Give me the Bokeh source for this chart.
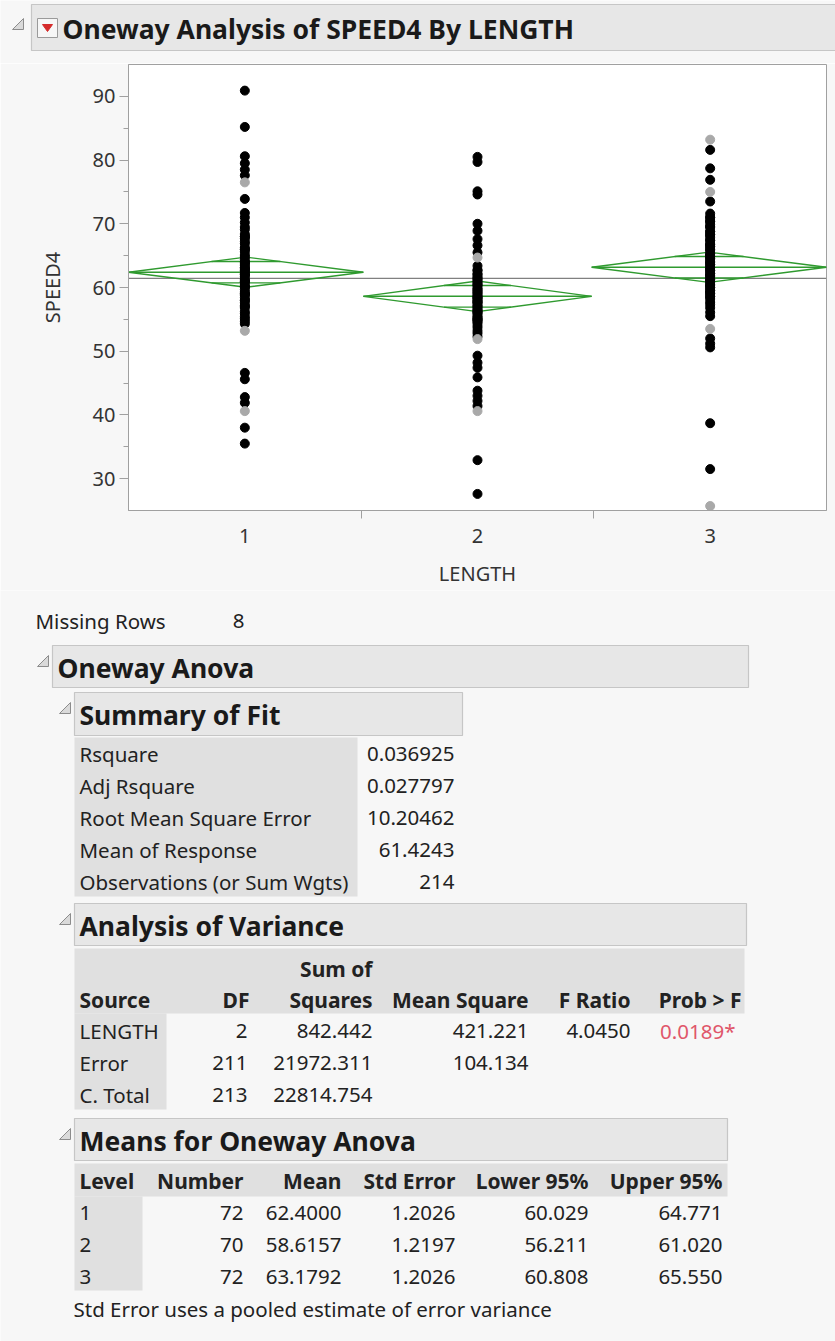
import math
from bokeh.plotting import figure
from bokeh.models import Range1d, FixedTicker, Span
from bokeh.embed import file_html
from bokeh.resources import INLINE
from bokeh.core.properties import value

# ------------------------------------------------------------------ data
levels = ["1", "2", "3"]
level_x = [1, 2, 3]

speed_1 = [90.9, 85.2, 80.6, 79.5, 78.5, 77.6, 73.9, 71.7, 71.0,
           70.2, 69.5, 69.1, 68.4, 68.0, 67.7, 67.2, 66.9, 66.3, 66.0, 65.6,
           65.1, 64.8, 64.4, 64.0, 63.7, 63.5, 63.1, 62.9, 62.6, 62.2, 62.0,
           61.7, 61.3, 61.0, 60.8, 60.4, 60.1, 59.7, 59.3, 59.0, 58.8, 58.4,
           58.0, 57.6, 57.1, 56.8, 56.2, 55.9, 55.4, 55.1, 54.7, 54.3,
           68.0, 66.0, 64.0, 63.1, 62.0, 61.0, 60.1, 59.0, 58.0, 57.1, 62.6,
           46.6, 45.6, 42.8, 41.9, 38.0, 35.5]
speed_1_gray = [76.5, 53.2, 40.6]

speed_2 = [80.5, 79.7, 75.1, 74.6, 70.0, 68.9, 67.6, 66.6, 65.5, 63.4,
           62.7, 62.1, 61.6, 61.2, 60.7, 60.3, 59.8, 59.4, 59.0, 58.5, 58.1,
           57.7, 57.2, 56.8, 56.3, 55.9, 55.4, 55.0, 54.6, 54.1, 53.7, 53.2,
           52.8, 52.3,
           62.1, 61.2, 60.3, 59.4, 59.0, 58.5, 58.1, 57.7, 57.2, 56.8, 56.3,
           55.9, 55.4, 55.0, 54.6, 60.7, 61.6, 62.7, 57.7, 58.5, 59.8, 56.3, 55.0,
           49.3, 48.2, 47.4, 45.9, 43.8, 43.0, 42.2, 41.4, 32.9, 27.6]
speed_2_gray = [64.7, 51.9, 40.6]

speed_3 = [81.6, 78.7, 76.9, 73.5,
           71.6, 71.0, 70.4, 69.9, 69.5, 68.8, 68.3, 67.9, 67.4, 66.8, 66.4,
           65.9, 65.3, 64.9, 64.5, 64.0, 63.6, 63.1, 62.7, 62.2, 61.8, 61.3,
           60.9, 60.4, 60.0, 59.5, 59.1, 58.6, 58.2, 57.7, 57.3, 56.8, 56.1, 55.5,
           71.0, 70.4, 69.5, 68.8, 68.3, 67.4, 66.8, 66.4, 65.9, 65.3, 64.9,
           64.5, 64.0, 63.6, 63.1, 62.7, 62.2, 61.8, 61.3, 60.9, 60.4, 60.0,
           59.5, 59.1, 58.6,
           52.0, 51.2, 50.6, 38.7, 31.5]
speed_3_gray = [83.2, 75.0, 53.5, 25.7]

y_ticks = [30, 40, 50, 60, 70, 80, 90]

missing_rows = "8"

summary_labels = ["Rsquare", "Adj Rsquare", "Root Mean Square Error",
                  "Mean of Response", "Observations (or Sum Wgts)"]
summary_values = ["0.036925", "0.027797", "10.20462", "61.4243", "214"]

anova_source = ["LENGTH", "Error", "C. Total"]
anova_df = [2, 211, 213]
anova_ss = [842.442, 21972.311, 22814.754]
anova_ms = [421.221, 104.134, None]
anova_f = ["4.0450", "", ""]
anova_p = ["0.0189*", "", ""]

means_number = [72, 70, 72]
means_mean = [62.4000, 58.6157, 63.1792]
means_se = [1.2026, 1.2197, 1.2026]
means_lower = [60.029, 56.211, 60.808]
means_upper = [64.771, 61.020, 65.550]

# ------------------------------------------------------------------ style
FONT = "Noto Sans"
BG = "#f7f7f7"
TXT = "#222222"
HDR_FILL = "#e7e7e7"
HDR_LINE = "#c6c6c6"
CELL_BG = "#e0e0e0"
W = 835
BODY = 20.5
HEAD = 26.5
BOLDHDR = 21


def text_fig(y0, y1):
    f = figure(width=W, height=y1 - y0, x_range=Range1d(0, W),
               y_range=Range1d(y1, y0), x_axis_type=None, y_axis_type=None,
               output_backend="svg", toolbar_location=None, min_border=0)
    f.grid.visible = False
    f.outline_line_color = None
    f.background_fill_color = BG
    f.border_fill_color = BG
    return f


def txt(f, x, y, s, size=BODY, bold=False, align="left", color=TXT):
    f.text(x=[x], y=[y], text=[s], text_font=value(FONT),
           text_font_size=value(f"{size}px"),
           text_font_style="bold" if bold else "normal",
           text_align=align, text_baseline="middle", text_color=color)


def box(f, l, r, t, b, fill=HDR_FILL, line=HDR_LINE):
    f.quad(left=[l], right=[r], top=[t], bottom=[b], fill_color=fill,
           line_color=line, line_width=1.2)


def cell(f, l, r, t, b):
    f.quad(left=[l], right=[r], top=[t], bottom=[b], fill_color=CELL_BG,
           line_color=None)


def tri(f, xr, yb, s=11):
    f.patch(x=[xr - s, xr, xr], y=[yb, yb, yb - s], fill_color="#dadada",
            line_color="#8c8c8c", line_width=1)


def section(f, l, r, t, b, title, size=HEAD):
    box(f, l, r, t, b)
    tri(f, l - 4, t + 21)
    txt(f, l + 5, (t + b) / 2 + 1, title, size=size, bold=True, color="#1a1a1a")


# ------------------------------------------------------------------ header
hdr = text_fig(0, 63)
box(hdr, 31, 840, 4, 50)
tri(hdr, 23, 29)
hdr.quad(left=[37], right=[57], top=[18], bottom=[37], fill_color="#f6f6f6",
         line_color="#9a9a9a")
hdr.patch(x=[42, 52, 47], y=[24, 24, 31], fill_color="#d42a2a", line_color="#d42a2a")
txt(hdr, 62, 28, "Oneway Analysis of SPEED4 By LENGTH", size=HEAD, bold=True,
    color="#1a1a1a")

# ------------------------------------------------------------------ plot
p = figure(width=W, height=527, x_range=Range1d(0.5, 3.5), y_range=Range1d(25, 95),
           output_backend="svg", toolbar_location=None,
           min_border_left=128, min_border_right=9, min_border_top=1,
           min_border_bottom=80, x_axis_label="LENGTH", y_axis_label="SPEED4")
p.background_fill_color = "white"
p.border_fill_color = BG
p.outline_line_color = "#a0a0a0"
p.grid.visible = False

p.yaxis.ticker = FixedTicker(ticks=y_ticks,
                             minor_ticks=[t + 5 for t in y_ticks[:-1]])
p.xaxis.ticker = FixedTicker(ticks=level_x,
                             minor_ticks=[x + 0.5 for x in level_x[:-1]])
p.xaxis.major_label_overrides = {x: l for x, l in zip(level_x, levels)}
for ax in (p.xaxis, p.yaxis):
    ax.axis_line_color = "#a0a0a0"
    ax.major_tick_line_color = "#a0a0a0"
    ax.minor_tick_line_color = "#a0a0a0"
    ax.major_tick_in = 0
    ax.minor_tick_in = 0
    ax.major_label_text_font = FONT
    ax.major_label_text_font_size = "20px"
    ax.major_label_text_color = "#333333"
    ax.axis_label_text_font = FONT
    ax.axis_label_text_font_size = "20px"
    ax.axis_label_text_font_style = "normal"
    ax.axis_label_text_color = "#333333"
p.yaxis.major_tick_out = 9
p.yaxis.minor_tick_out = 5
p.yaxis.major_label_standoff = 4
p.yaxis.axis_label_standoff = 24
p.xaxis.major_tick_out = 0
p.xaxis.minor_tick_out = 8
p.xaxis.major_label_standoff = 10
p.xaxis.axis_label_standoff = 14

grand_mean = float(summary_values[3])
p.add_layout(Span(location=grand_mean, dimension="width", line_color="#808080",
                  line_width=1.2, level="underlay"))

# means diamonds (width proportional to group size)
N = sum(means_number)
span_w = 3.0
left = 0.5
GREEN = "#2f9a2f"
for n, m, lo, hi in zip(means_number, means_mean, means_lower, means_upper):
    w = span_w * n / N
    right = left + w
    c = (left + right) / 2
    p.patch(x=[left, c, right, c], y=[m, hi, m, lo], fill_color=None,
            line_color=GREEN, line_width=1.4)
    p.line(x=[left, right], y=[m, m], line_color=GREEN, line_width=1.4)
    ov = (hi - m) / math.sqrt(2)
    hw = (w / 2) * (1 - 1 / math.sqrt(2))
    for yv in (m + ov, m - ov):
        p.line(x=[c - hw, c + hw], y=[yv, yv], line_color=GREEN, line_width=1.4)
    left = right

for xv, blk, gry in zip(level_x, [speed_1, speed_2, speed_3],
                        [speed_1_gray, speed_2_gray, speed_3_gray]):
    p.scatter(x=[xv] * len(blk), y=blk, size=9, fill_color="black",
              line_color="black")
    p.scatter(x=[xv] * len(gry), y=gry, size=9, fill_color="#a9a9a9",
              line_color="#a9a9a9")

# ------------------------------------------------------------------ tables
t = text_fig(590, 1341)

txt(t, 35, 620, "Missing Rows")
txt(t, 238, 620, missing_rows, align="center")

section(t, 52, 748, 645, 687, "Oneway Anova")

# Summary of Fit
section(t, 74, 462, 692, 735, "Summary of Fit")
cell(t, 74, 357, 737, 896)
rows_sf = [753, 785, 817, 849, 881]
for y, lab, val in zip(rows_sf, summary_labels, summary_values):
    txt(t, 79, y, lab)
    txt(t, 454, y, val, align="right")

# Analysis of Variance
section(t, 74, 746, 903, 945, "Analysis of Variance")
cell(t, 74, 744, 948, 1013)
cell(t, 74, 166, 1013, 1109)
txt(t, 372, 968, "Sum of", size=BOLDHDR, bold=True, align="right")
hy = 999
txt(t, 79, hy, "Source", size=BOLDHDR, bold=True)
txt(t, 249, hy, "DF", size=BOLDHDR, bold=True, align="right")
txt(t, 372, hy, "Squares", size=BOLDHDR, bold=True, align="right")
txt(t, 528, hy, "Mean Square", size=BOLDHDR, bold=True, align="right")
txt(t, 630, hy, "F Ratio", size=BOLDHDR, bold=True, align="right")
txt(t, 741, hy, "Prob > F", size=BOLDHDR, bold=True, align="right")
rows_av = [1030, 1062, 1094]
for y, s, d, ss, ms, fr, pr in zip(rows_av, anova_source, anova_df, anova_ss,
                                   anova_ms, anova_f, anova_p):
    txt(t, 79, y, s)
    txt(t, 247, y, f"{d}", align="right")
    txt(t, 372, y, f"{ss:.3f}", align="right")
    if ms is not None:
        txt(t, 528, y, f"{ms:.3f}", align="right")
    if fr:
        txt(t, 630, y, fr, align="right")
    if pr:
        txt(t, 735, y, pr, align="right", color="#e0566a")

# Means for Oneway Anova
section(t, 74, 727, 1118, 1160, "Means for Oneway Anova")
cell(t, 74, 727, 1163, 1196)
cell(t, 74, 142, 1196, 1290)
my = 1180
txt(t, 79, my, "Level", size=BOLDHDR, bold=True)
txt(t, 243, my, "Number", size=BOLDHDR, bold=True, align="right")
txt(t, 341, my, "Mean", size=BOLDHDR, bold=True, align="right")
txt(t, 455, my, "Std Error", size=BOLDHDR, bold=True, align="right")
txt(t, 588, my, "Lower 95%", size=BOLDHDR, bold=True, align="right")
txt(t, 722, my, "Upper 95%", size=BOLDHDR, bold=True, align="right")
rows_mn = [1212, 1244, 1276]
for y, lv, n, m, se, lo, hi in zip(rows_mn, levels, means_number, means_mean,
                                   means_se, means_lower, means_upper):
    txt(t, 79, y, lv)
    txt(t, 243, y, f"{n}", align="right")
    txt(t, 341, y, f"{m:.4f}", align="right")
    txt(t, 455, y, f"{se:.4f}", align="right")
    txt(t, 588, y, f"{lo:.3f}", align="right")
    txt(t, 722, y, f"{hi:.3f}", align="right")

txt(t, 73, 1308, "Std Error uses a pooled estimate of error variance")

open("out.html", "w").write(file_html([hdr, p, t], INLINE))
